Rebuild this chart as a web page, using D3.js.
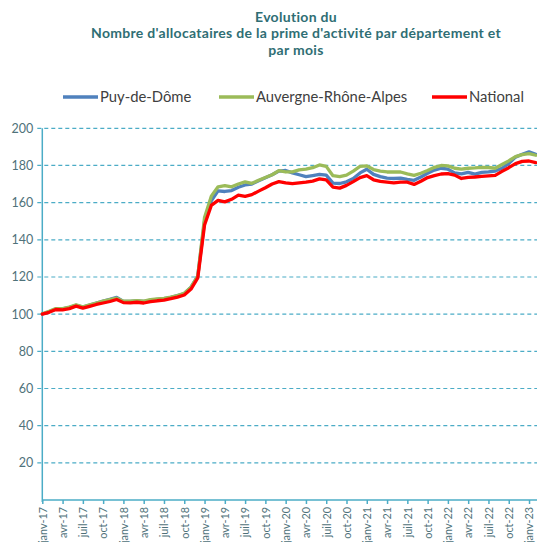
<!DOCTYPE html>
<html>
<head>
<meta charset="utf-8">
<script src="https://cdn.jsdelivr.net/npm/d3@7"></script>
<style>
  body { margin: 0; background: #ffffff; }
  svg { display: block; }
</style>
</head>
<body>
<div id="chart"></div>
<script>
'use strict'

// month categories, janv-17 .. févr-23
const monthNames = ['janv', 'févr', 'mars', 'avr', 'mai', 'juin', 'juil', 'août', 'sept', 'oct', 'nov', 'déc'];
const years = ['17', '18', '19', '20', '21', '22', '23'];
const lastMonthIndex = 1; // févr-23

const yTicks = [20, 40, 60, 80, 100, 120, 140, 160, 180, 200];

const puyDeDome = [
  100.1, 101.3, 102.8, 102.8, 103.6, 104.8, 103.8, 104.9, 106, 107, 108, 109,
  106.8, 106.8, 107.2, 106.8, 107.6, 108, 108.4, 109, 110, 111, 114.5, 120.5,
  150, 161, 166.3, 166, 166.5, 168.3, 169.5, 170, 171.8, 173.4, 175, 177,
  177.3, 176, 175, 174, 174.6, 175.2, 174.8, 170.5, 170.3, 171.2, 173, 176,
  178, 175.2, 174, 173.2, 173, 173.2, 172.5, 172, 173.8, 175.8, 177.5, 178.5,
  178, 176, 175.5, 176.3, 175.3, 176.3, 176.5, 177, 178.5, 181, 184.5, 186,
  187.3, 186
];

const auvergneRhoneAlpes = [
  100.2, 101.5, 103, 103, 103.8, 105, 104, 105, 106, 107, 107.8, 108.6,
  107, 107, 107.3, 107, 107.8, 108.2, 108.5, 109.2, 110, 111.2, 114.5, 120.5,
  152, 163.5, 168.5, 169.2, 168.5, 170, 171.2, 170.4, 172, 173.5, 175, 177.2,
  176.5, 176.6, 177.6, 178, 178.8, 180.3, 179.5, 174.5, 174, 174.8, 177, 179.5,
  179.8, 177.8, 177, 176.5, 176.5, 176.5, 175.5, 174.7, 175.8, 177.3, 179, 180,
  179.8, 178.5, 178, 178.5, 178.7, 179, 178.9, 178.5, 180.5, 182.5, 184.8, 185.8,
  186.4, 185.5
];

const national = [
  100, 101, 102.5, 102.3, 103, 104.3, 103.2, 104.2, 105.2, 106, 106.8, 107.9,
  106.2, 106.1, 106.4, 106, 106.7, 107.2, 107.5, 108.3, 109.2, 110.3, 113.5, 119.5,
  148, 158.5, 161.2, 160.4, 161.8, 164, 163.4, 164.3, 166.2, 168, 170, 171.3,
  170.6, 170.2, 170.6, 171, 171.6, 172.8, 172.2, 168.4, 167.8, 169.3, 171.3, 173.5,
  174.5, 172.3, 171.4, 171, 170.6, 171, 171, 169.8, 171.5, 173.5, 174.5, 175.4,
  175.6, 174.8, 173, 173.6, 173.8, 174.1, 174.4, 174.7, 176.8, 178.8, 181, 182.2,
  182.4, 181.5
];

const seriesNames = ['Puy-de-Dôme', 'Auvergne-Rhône-Alpes', 'National'];
const seriesColors = ['#4f81bd', '#9bbb59', '#ff0000'];

// build the category list
const months = [];
years.forEach((yr, yi) => {
  monthNames.forEach((m, mi) => {
    if (yi < years.length - 1 || mi <= lastMonthIndex) months.push(`${m}-${yr}`);
  });
});

const series = [puyDeDome, auvergneRhoneAlpes, national].map((values, i) => ({
  name: seriesNames[i],
  color: seriesColors[i],
  values: values.map((v, j) => ({ month: months[j], value: v }))
}));

const svgWidth = 537;
const svgHeight = 542;

const axisColor = '#4bacc6';
const labelColor = '#4f727a';
const titleColor = '#2f6e74';

const plotLeft = 42.3;
const plotRight = 537;
const plotTop = 128.3;
const plotBottom = 500;

const x = d3.scalePoint()
  .domain(months)
  .range([plotLeft, plotLeft + 6.76 * (months.length - 1)]);

const y = d3.scaleLinear()
  .domain([0, 200])
  .range([plotBottom, plotTop]);

const svg = d3.select('#chart').append('svg')
  .attr('width', svgWidth)
  .attr('height', svgHeight)
  .style('font-family', 'Lato, "Open Sans", sans-serif');

// title
const titleLines = [
  'Evolution du',
  "Nombre d'allocataires de la prime d'activité par département et",
  'par mois'
];

svg.append('g')
  .selectAll('text')
  .data(titleLines)
  .join('text')
  .attr('x', 296)
  .attr('y', (d, i) => 21.5 + i * 16.6)
  .attr('text-anchor', 'middle')
  .attr('font-weight', 'bold')
  .attr('font-size', 14)
  .attr('letter-spacing', 0.3)
  .attr('fill', titleColor)
  .text(d => d);

// legend
const legendX = [63, 219, 432];
const legend = svg.append('g')
  .selectAll('g')
  .data(series)
  .join('g')
  .attr('transform', (d, i) => `translate(${legendX[i]}, 97)`);

legend.append('line')
  .attr('x1', 0)
  .attr('x2', 35)
  .attr('stroke', d => d.color)
  .attr('stroke-width', 3.5);

legend.append('text')
  .attr('x', 37)
  .attr('y', 5)
  .attr('font-size', 14.8)
  .attr('fill', '#404040')
  .text(d => d.name);

// horizontal gridlines
svg.append('g')
  .selectAll('line')
  .data(yTicks)
  .join('line')
  .attr('x1', plotLeft - 5)
  .attr('x2', plotRight)
  .attr('y1', d => y(d))
  .attr('y2', d => y(d))
  .attr('stroke', axisColor)
  .attr('stroke-width', 1.2)
  .attr('stroke-dasharray', '4,3');

// y axis
const yAxis = d3.axisLeft(y)
  .tickValues([0].concat(yTicks))
  .tickSize(0)
  .tickPadding(9)
  .tickFormat(d => d === 0 ? '' : d);

svg.append('g')
  .attr('transform', `translate(${plotLeft}, 0)`)
  .call(yAxis)
  .call(g => g.select('.domain').remove())
  .call(g => g.selectAll('text')
    .attr('font-size', 12.5)
    .attr('font-family', 'Lato, "Open Sans", sans-serif')
    .attr('fill', labelColor));

svg.append('line')
  .attr('x1', plotLeft)
  .attr('x2', plotLeft)
  .attr('y1', plotTop)
  .attr('y2', plotBottom + 2)
  .attr('stroke', axisColor)
  .attr('stroke-width', 1.5);

// x axis
const xAxis = d3.axisBottom(x)
  .tickValues(months.filter((d, i) => i % 3 === 0))
  .tickSize(4)
  .tickSizeOuter(0);

svg.append('g')
  .attr('transform', `translate(0, ${plotBottom})`)
  .call(xAxis)
  .call(g => g.select('.domain')
    .attr('d', `M${plotLeft},0H${plotRight}`)
    .attr('stroke', axisColor)
    .attr('stroke-width', 1.5))
  .call(g => g.selectAll('.tick line')
    .attr('stroke', axisColor)
    .attr('stroke-width', 1.5))
  .call(g => g.selectAll('text')
    .attr('font-size', 10.8)
    .attr('font-family', 'Lato, "Open Sans", sans-serif')
    .attr('fill', labelColor)
    .attr('text-anchor', 'end')
    .attr('dy', '0.35em')
    .attr('transform', 'translate(0, 4) rotate(-90)')
    .attr('x', -3)
    .attr('y', 0));

// lines
const line = d3.line()
  .x(d => x(d.month))
  .y(d => y(d.value));

svg.append('g')
  .selectAll('path')
  .data(series)
  .join('path')
  .attr('d', d => line(d.values))
  .attr('fill', 'none')
  .attr('stroke', d => d.color)
  .attr('stroke-width', 3.3)
  .attr('stroke-linejoin', 'round')
  .attr('stroke-linecap', 'round');
</script>
</body>
</html>
